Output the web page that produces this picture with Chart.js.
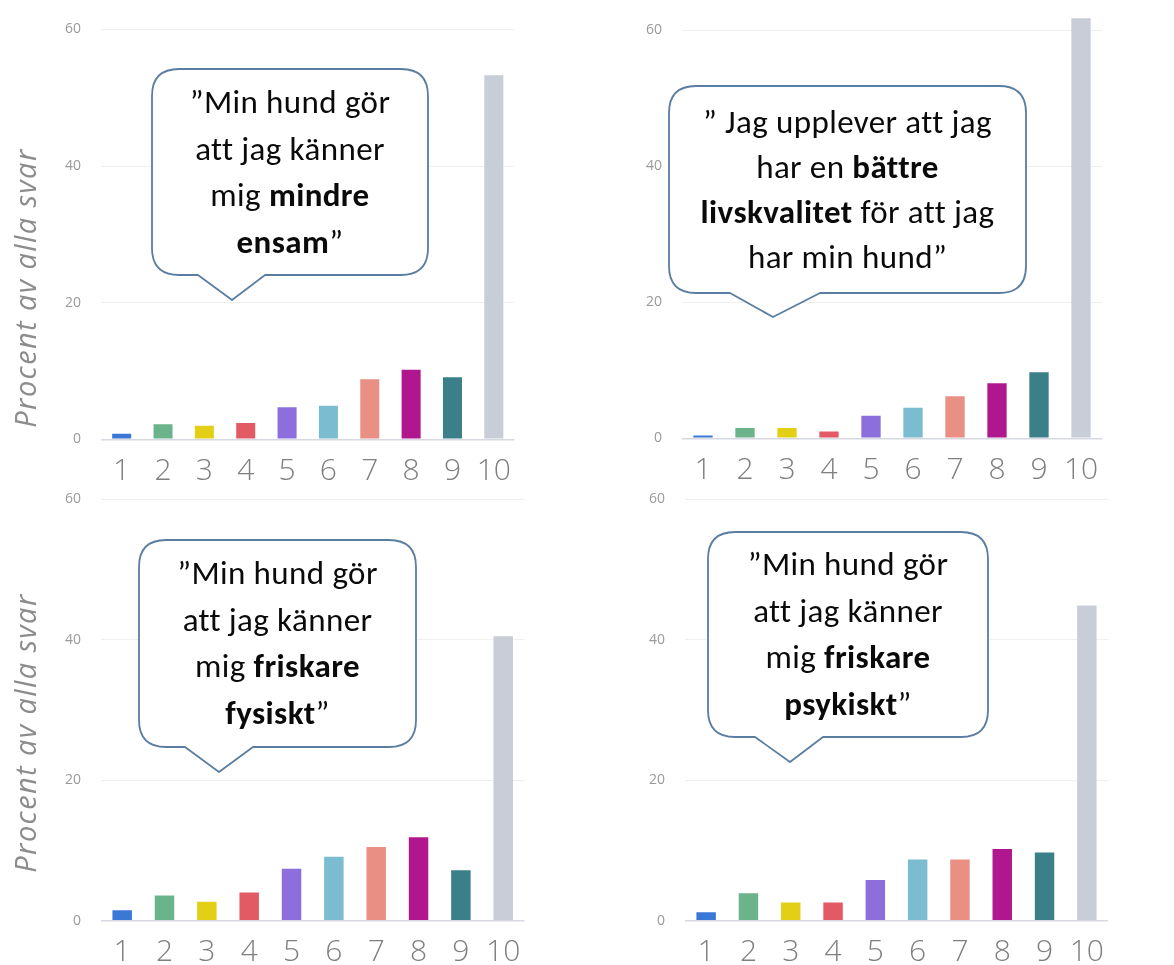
<!DOCTYPE html>
<html>
<head>
<meta charset="utf-8">
<script src="https://cdn.jsdelivr.net/npm/chart.js@4.4.1/dist/chart.umd.min.js"></script>
<style>
  html, body { margin: 0; padding: 0; background: #fff; }
  body { width: 1174px; height: 965px; position: relative; overflow: hidden; }
  .panel { position: absolute; }
  .panel canvas { width: 100% !important; height: 100% !important; }
  .ytitle {
    position: absolute; width: 340px; text-align: center;
    font-family: 'Open Sans', sans-serif; font-style: italic; font-size: 29px;
    letter-spacing: 1.4px; color: #8c8c8c; line-height: 34px;
    transform: rotate(-90deg); white-space: nowrap;
  }
  svg.bubbles { position: absolute; left: 0; top: 0; z-index: 5; }
  .btext {
    position: absolute; z-index: 6; text-align: center; color: #0a0a0a;
    font-family: Calibri, Carlito, Lato, sans-serif; font-size: 33px; line-height: 46.5px;
    letter-spacing: 0.4px; white-space: nowrap;
  }
  .btext b { font-weight: 700; }
</style>
</head>
<body>

<div class="panel" id="p1" style="left:0;top:0;width:540px;height:485px"><canvas id="c1"></canvas></div>
<div class="panel" id="p2" style="left:590px;top:0;width:584px;height:485px"><canvas id="c2"></canvas></div>
<div class="panel" id="p3" style="left:0;top:470px;width:560px;height:495px"><canvas id="c3"></canvas></div>
<div class="panel" id="p4" style="left:590px;top:470px;width:584px;height:495px"><canvas id="c4"></canvas></div>

<div class="ytitle" style="left:-145px;top:271px">Procent av alla svar</div>
<div class="ytitle" style="left:-145px;top:716px">Procent av alla svar</div>

<!-- pratbubblor -->
<svg class="bubbles" width="1174" height="965">
  <g fill="#fff" stroke="#5a7da1" stroke-width="1.8" stroke-linejoin="round">
    <path id="b1"/><path id="b2"/><path id="b3"/><path id="b4"/>
  </g>
</svg>
<div class="btext" style="left:152px;width:276px;top:79px">”Min hund gör<br>att jag känner<br>mig <b>mindre</b><br><b>ensam</b>”</div>
<div class="btext" style="left:669px;width:357px;top:100px;line-height:45px">” Jag upplever att jag<br>har en <b>bättre</b><br><b>livskvalitet</b> för att jag<br>har min hund”</div>
<div class="btext" style="left:139px;width:277px;top:550px">”Min hund gör<br>att jag känner<br>mig <b>friskare</b><br><b>fysiskt</b>”</div>
<div class="btext" style="left:708px;width:280px;top:541px">”Min hund gör<br>att jag känner<br>mig <b>friskare</b><br><b>psykiskt</b>”</div>

<script>
// --- data ---
const categories = ['1', '2', '3', '4', '5', '6', '7', '8', '9', '10'];
const yTicks = [0, 20, 40, 60];

const mindreEnsam = [0.8, 2.2, 2.0, 2.4, 4.7, 4.9, 8.8, 10.2, 9.1, 53.3];
const battreLivskvalitet = [0.4, 1.5, 1.5, 1.0, 3.3, 4.5, 6.2, 8.1, 9.7, 61.8];
const friskareFysiskt = [1.5, 3.6, 2.7, 4.0, 7.4, 9.1, 10.5, 11.9, 7.2, 40.5];
const friskarePsykiskt = [1.2, 3.9, 2.6, 2.6, 5.8, 8.7, 8.7, 10.2, 9.7, 44.9];

const barColors = ['#3a78d6', '#6bb38a', '#e2cf16', '#e25a64', '#8c6fdc',
                   '#7bbcd0', '#e98f83', '#b0178f', '#3b7f89', '#c9cdd8'];

// bubblans form: rektangel + spets nedåt
function bubblePath(x0, y0, x1, y1, r, tx0, tx1, px, py) {
    return `M${x0 + r},${y0} H${x1 - r} Q${x1},${y0} ${x1},${y0 + r} V${y1 - r} ` +
        `Q${x1},${y1} ${x1 - r},${y1} H${tx1} L${px},${py} L${tx0},${y1} H${x0 + r} ` +
        `Q${x0},${y1} ${x0},${y1 - r} V${y0 + r} Q${x0},${y0} ${x0 + r},${y0} Z`;
}
document.getElementById('b1').setAttribute('d', bubblePath(152, 69, 428, 275, 27, 198, 265, 232, 300));
document.getElementById('b2').setAttribute('d', bubblePath(669, 86, 1026, 293, 27, 730, 820, 773, 317));
document.getElementById('b3').setAttribute('d', bubblePath(139, 540, 416, 747, 27, 185, 253, 219, 772));
document.getElementById('b4').setAttribute('d', bubblePath(708, 532, 988, 737, 27, 755, 823, 790, 762));

function makeChart(id, values, yAxisWidth, xAxisHeight, padTop, padRight) {
    const ctx = document.getElementById(id).getContext('2d');
    return new Chart(ctx, {
        type: 'bar',
        data: {
            labels: categories,
            datasets: [{
                data: values,
                backgroundColor: barColors,
                barPercentage: 0.46,
                categoryPercentage: 1.0
            }]
        },
        options: {
            responsive: true,
            maintainAspectRatio: false,
            animation: false,
            layout: { padding: { top: padTop, right: padRight, left: 0, bottom: 0 } },
            plugins: { legend: { display: false }, tooltip: { enabled: false } },
            scales: {
                x: {
                    grid: { display: false, drawTicks: false },
                    border: { display: false },
                    ticks: {
                        color: '#7f7f7f',
                        padding: 14,
                        maxRotation: 0,
                        autoSkip: false,
                        font: { family: "'Open Sans', sans-serif", size: 30, weight: 300 }
                    },
                    afterFit: (s) => { s.height = xAxisHeight; }
                },
                y: {
                    min: 0,
                    max: 63,
                    grid: {
                        drawTicks: true,
                        tickLength: 20,
                        tickColor: 'rgba(0,0,0,0)',
                        color: (c) => c.tick && c.tick.value === 0 ? '#d6d9e1' : '#efefef',
                        lineWidth: (c) => c.tick && c.tick.value === 0 ? 1.5 : 1
                    },
                    border: { display: false },
                    ticks: {
                        stepSize: 20,
                        color: '#9a9a9a',
                        padding: 0,
                        font: { family: "'Open Sans', sans-serif", size: 14 }
                    },
                    afterBuildTicks: (s) => {
                        s.ticks = yTicks.map(v => ({ value: v }));
                    },
                    afterFit: (s) => { s.width = yAxisWidth; }
                }
            }
        }
    });
}

makeChart('c1', mindreEnsam, 101, 45.7, 9, 25.5);
makeChart('c2', battreLivskvalitet, 92, 46.7, 10, 72);
makeChart('c3', friskareFysiskt, 101, 44.3, 2, 35.6);
makeChart('c4', friskarePsykiskt, 95, 44.3, 7.8, 66);
</script>
</body>
</html>
